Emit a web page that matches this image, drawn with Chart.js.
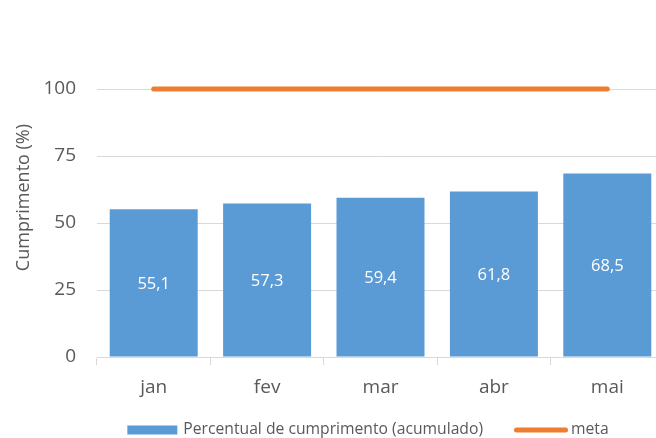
<!DOCTYPE html>
<html><head><meta charset="utf-8">
<script src="https://cdn.jsdelivr.net/npm/chart.js@4/dist/chart.umd.min.js"></script>
<style>html,body{margin:0;padding:0;overflow:hidden;background:#fff;width:656px;height:438px}</style>
</head><body>
<canvas id="c" width="736" height="438"></canvas>
<script>
const categories = ['jan','fev','mar','abr','mai'];
const cumprimento = [55.1, 57.3, 59.4, 61.8, 68.5];
const meta = [100, 100, 100, 100, 100];
const yTicks = [0, 25, 50, 75, 100];
const seriesNames = ['Percentual de cumprimento (acumulado)', 'meta'];
const yTitle = 'Cumprimento (%)';

const FONT = "'Open Sans', sans-serif";
const TXT = '#595959';
const BLUE = '#5B9BD5', ORANGE = '#ED7D31', GRID = '#D9D9D9';

const extras = {
  id: 'extras',
  afterDatasetsDraw(chart) {
    const ctx = chart.ctx;
    const meta0 = chart.getDatasetMeta(1);
    ctx.save();
    ctx.fillStyle = '#fff';
    ctx.font = '16.5px ' + FONT;
    ctx.textAlign = 'center';
    ctx.textBaseline = 'middle';
    meta0.data.forEach((el, i) => {
      const v = chart.data.datasets[1].data[i];
      ctx.fillText(v.toFixed(1).replace('.', ','), el.x, (el.y + el.base) / 2 + 1);
    });
    ctx.restore();
  },
  afterDraw(chart) {
    const ctx = chart.ctx;
    const ca = chart.chartArea;
    ctx.save();
    // y title
    ctx.fillStyle = TXT;
    ctx.font = '18px ' + FONT;
    ctx.textAlign = 'center';
    ctx.textBaseline = 'middle';
    ctx.translate(23.5, ca.top + (ca.bottom - ca.top) * 0.405);
    ctx.rotate(-Math.PI / 2);
    ctx.fillText(yTitle, 0, 0);
    ctx.restore();
    // legend
    ctx.save();
    ctx.font = '15.7px ' + FONT;
    ctx.textBaseline = 'middle';
    ctx.textAlign = 'left';
    const w1 = ctx.measureText(seriesNames[0]).width;
    const w2 = ctx.measureText(seriesNames[1]).width;
    const total = 50 + 6 + w1 + 31 + 54 + 3 + w2;
    let x = 368 - total / 2;
    const y = 430;
    ctx.fillStyle = BLUE;
    ctx.fillRect(x, y - 4.5, 50, 9);
    x += 56;
    ctx.fillStyle = TXT;
    ctx.fillText(seriesNames[0], x, y);
    x += w1 + 31;
    ctx.strokeStyle = ORANGE;
    ctx.lineWidth = 5;
    ctx.lineCap = 'round';
    ctx.beginPath();
    ctx.moveTo(x + 2.5, y);
    ctx.lineTo(x + 54 - 2.5, y);
    ctx.stroke();
    x += 57;
    ctx.fillStyle = TXT;
    ctx.fillText(seriesNames[1], x, y);
    ctx.restore();
  }
};

new Chart(document.getElementById('c'), {
  data: {
    labels: categories,
    datasets: [
      { type: 'line', label: seriesNames[1], data: meta, borderColor: ORANGE, borderWidth: 5,
        borderCapStyle: 'round', pointRadius: 0, pointHoverRadius: 0, clip: false, order: 0, fill: false },
      { type: 'bar', label: seriesNames[0], data: cumprimento, backgroundColor: BLUE,
        barPercentage: 0.776, categoryPercentage: 1, order: 1 }
    ]
  },
  plugins: [extras],
  options: {
    responsive: false,
    animation: false,
    devicePixelRatio: 1,
    layout: { padding: { top: 89, right: 72, left: 0, bottom: 0 } },
    plugins: { legend: { display: false }, tooltip: { enabled: false } },
    scales: {
      x: {
        afterFit(s) { s.height = 81; },
        grid: { display: true, drawOnChartArea: false, drawTicks: true, tickLength: 8, color: GRID, offset: true },
        border: { display: true, color: GRID },
        ticks: { color: TXT, font: { family: FONT, size: 19 }, padding: 11, maxRotation: 0 }
      },
      y: {
        min: 0, max: 100,
        afterFit(s) { s.width = 97; },
        afterBuildTicks(s) { s.ticks = yTicks.map(v => ({ value: v })); },
        grid: { color: GRID, drawTicks: false },
        border: { display: false },
        ticks: { color: TXT, font: { family: FONT, size: 19 }, padding: 21 }
      }
    }
  }
});
</script>
</body></html>
